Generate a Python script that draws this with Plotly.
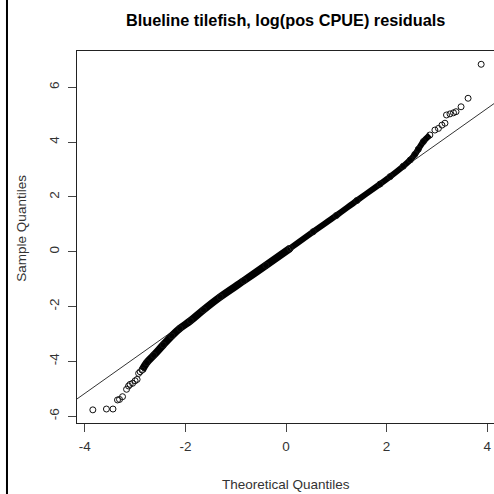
import plotly.graph_objects as go

# ---- data ----
title_text = "Blueline tilefish, log(pos CPUE) residuals"
x_title = "Theoretical Quantiles"
y_title = "Sample Quantiles"

x_ticks = [-4, -2, 0, 2, 4]
y_ticks = [-6, -4, -2, 0, 2, 4, 6]

# dense central band of the QQ plot (theoretical, sample)
band_lo_x = [-2.86, -2.77, -2.63, -2.44, -2.27, -2.11, -1.90, -1.64, -1.31, -0.84, -0.40, 0.08]
band_lo_y = [-4.32, -4.05, -3.78, -3.40, -3.07, -2.80, -2.52, -2.12, -1.65, -1.06, -0.50, 0.12]
band_hi_x = [0.08, 0.54, 1.00, 1.41, 1.87, 2.07, 2.33, 2.47, 2.56, 2.63, 2.73, 2.86]
band_hi_y = [0.12, 0.73, 1.32, 1.87, 2.47, 2.74, 3.12, 3.35, 3.55, 3.74, 4.02, 4.26]

# individually visible tail points
low_x = [-3.84, -3.57, -3.44, -3.35, -3.31, -3.25, -3.17, -3.13, -3.10, -3.05, -3.00, -2.96, -2.93, -2.90]
low_y = [-5.77, -5.74, -5.74, -5.41, -5.39, -5.29, -5.02, -4.90, -4.84, -4.80, -4.71, -4.66, -4.44, -4.38]
high_x = [2.96, 3.03, 3.10, 3.16, 3.19, 3.26, 3.33, 3.38, 3.48, 3.62, 3.88]
high_y = [4.44, 4.50, 4.62, 4.69, 4.99, 5.03, 5.07, 5.11, 5.29, 5.60, 6.84]

# reference (qqline) line
line_intercept = 0.03
line_slope = 1.30

x_range = [-4.155, 4.135]
y_range = [-6.25, 7.325]

fig = go.Figure()

marker_style = dict(symbol="circle-open", size=6, color="#111", line=dict(width=1, color="#111"))

fig.add_trace(go.Scatter(x=x_range, y=[line_intercept + line_slope * v for v in x_range],
                         mode="lines", line=dict(color="#333", width=1), hoverinfo="skip"))
fig.add_trace(go.Scatter(x=band_lo_x, y=band_lo_y, mode="lines+markers",
                         line=dict(color="#000", width=7.5, shape="spline"), marker=marker_style))
fig.add_trace(go.Scatter(x=band_hi_x, y=band_hi_y, mode="lines+markers",
                         line=dict(color="#000", width=6, shape="spline"), marker=marker_style))
fig.add_trace(go.Scatter(x=low_x, y=low_y, mode="markers", marker=marker_style))
fig.add_trace(go.Scatter(x=high_x, y=high_y, mode="markers", marker=marker_style))

axis_font = dict(family="Liberation Sans, Arial, sans-serif", size=13.5, color="#333")

fig.update_xaxes(range=x_range, tickvals=x_ticks, ticktext=[str(v) for v in x_ticks],
                 showgrid=False, zeroline=False, showline=True, linecolor="#222", linewidth=1,
                 mirror=True, ticks="outside", ticklen=8, tickcolor="#444", tickfont=axis_font,
                 ticklabelstandoff=3)
fig.update_yaxes(range=y_range, tickvals=y_ticks, ticktext=[str(v) for v in y_ticks],
                 showgrid=False, zeroline=False, showline=True, linecolor="#222", linewidth=1,
                 ticks="outside", ticklen=8, tickcolor="#444", tickfont=axis_font, tickangle=-90,
                 ticklabelstandoff=4)

fig.update_layout(
    width=494, height=494,
    margin=dict(l=77, r=0, t=51, b=71),
    paper_bgcolor="white", plot_bgcolor="white",
    showlegend=False,
    annotations=[
        dict(text="<b>" + title_text + "</b>", x=0.501, y=1.083, xref="paper", yref="paper",
             showarrow=False, xanchor="center", yanchor="middle",
             font=dict(family="Liberation Sans, Arial, sans-serif", size=16.3, color="#000")),
        dict(text=x_title, x=0.501, y=-0.164, xref="paper", yref="paper",
             showarrow=False, xanchor="center", yanchor="middle", font=axis_font),
        dict(text=y_title, x=-0.132, y=0.525, xref="paper", yref="paper", textangle=-90,
             showarrow=False, xanchor="center", yanchor="middle", font=axis_font),
    ],
    shapes=[
        dict(type="line", xref="paper", yref="paper", x0=-0.1679, x1=-0.1679, y0=-0.2, y1=1.2,
             line=dict(color="#000", width=2)),
    ],
)

fig.write_html("out.html")
